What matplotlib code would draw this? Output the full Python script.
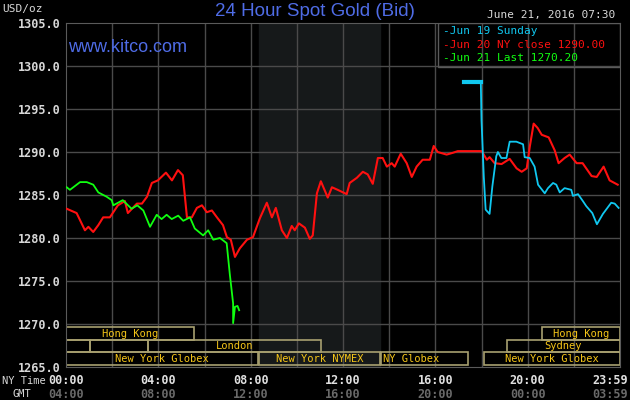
import matplotlib
matplotlib.use('Agg')
import matplotlib.pyplot as plt
from matplotlib.patches import Rectangle

# Jun 20 (red), hours NY time
red_h = [0.03, 0.46, 0.82, 0.97, 1.18, 1.40, 1.61, 1.90, 2.25, 2.55, 2.68, 3.07, 3.29, 3.51, 3.72, 3.98,
         4.33, 4.59, 4.85, 5.06, 5.24, 5.45, 5.67, 5.89, 6.10, 6.32, 6.54, 6.80, 6.97, 7.14, 7.32, 7.53,
         7.84, 8.10, 8.40, 8.70, 8.92, 9.09, 9.35, 9.57, 9.78, 9.91, 10.09, 10.35, 10.56, 10.69, 10.87,
         11.04, 11.34, 11.52, 11.77, 12.16, 12.29, 12.60, 12.86, 13.07, 13.29, 13.51, 13.72, 13.90, 14.11,
         14.24, 14.50, 14.76, 14.98, 15.19, 15.45, 15.76, 15.93, 16.10, 16.49, 16.75, 16.97, 18.01, 18.23,
         18.35, 18.57, 18.87, 19.22, 19.52, 19.74, 19.96, 20.09, 20.26, 20.43, 20.61, 20.91, 21.17, 21.34,
         21.60, 21.82, 22.12, 22.38, 22.77, 22.99, 23.29, 23.55, 23.90]
red_p = [1283.4, 1282.9, 1280.9, 1281.3, 1280.7, 1281.5, 1282.4, 1282.4, 1283.8, 1284.3, 1282.9, 1284.0,
         1284.0, 1284.8, 1286.4, 1286.7, 1287.6, 1286.7, 1287.9, 1287.3, 1282.4, 1282.4, 1283.5, 1283.8,
         1283.0, 1283.2, 1282.4, 1281.5, 1280.1, 1279.8, 1277.8, 1278.8, 1279.8, 1280.1, 1282.3, 1284.1,
         1282.4, 1283.5, 1280.9, 1280.0, 1281.4, 1280.9, 1281.7, 1281.2, 1279.9, 1280.3, 1285.2, 1286.6,
         1284.7, 1285.9, 1285.6, 1285.1, 1286.4, 1287.0, 1287.7, 1287.4, 1286.3, 1289.3, 1289.3, 1288.3,
         1288.7, 1288.3, 1289.8, 1288.7, 1287.1, 1288.3, 1289.1, 1289.1, 1290.7, 1290.0, 1289.7, 1289.9,
         1290.1, 1290.1, 1289.1, 1289.4, 1288.7, 1288.6, 1289.2, 1288.1, 1287.7, 1288.1, 1290.6, 1293.3,
         1292.8, 1292.0, 1291.7, 1290.2, 1288.7, 1289.3, 1289.7, 1288.7, 1288.7, 1287.2, 1287.1, 1288.3,
         1286.7, 1286.2]

# Jun 19 Sunday (cyan)
cyan_flat_h = [17.23, 17.97]
cyan_flat_p = [1298.1, 1298.1]
cyan_h = [17.97, 18.0, 18.10, 18.18, 18.35, 18.47, 18.64, 18.71, 18.86, 19.08, 19.22, 19.51, 19.80, 19.87,
          20.09, 20.30, 20.45, 20.74, 20.88, 21.10, 21.24, 21.39, 21.60, 21.89, 21.96, 22.18, 22.39, 22.54,
          22.80, 23.00, 23.26, 23.62, 23.77, 23.94]
cyan_p = [1298.1, 1293.7, 1287.1, 1283.3, 1282.8, 1286.0, 1289.5, 1290.0, 1289.3, 1289.3, 1291.2, 1291.2,
          1290.9, 1289.4, 1289.3, 1288.3, 1286.2, 1285.2, 1285.8, 1286.4, 1286.2, 1285.3, 1285.8, 1285.6,
          1284.9, 1285.1, 1284.3, 1283.7, 1282.9, 1281.6, 1282.8, 1284.1, 1284.0, 1283.5]

# Jun 21 (green)
green_h = [0.03, 0.17, 0.61, 0.90, 1.18, 1.40, 1.76, 1.98, 2.05, 2.46, 2.84, 3.09, 3.35, 3.64, 3.93, 4.14,
           4.36, 4.58, 4.86, 5.08, 5.37, 5.58, 5.94, 6.16, 6.38, 6.67, 6.96, 7.10, 7.24, 7.24, 7.32, 7.43, 7.50]
green_p = [1285.9, 1285.6, 1286.5, 1286.5, 1286.2, 1285.3, 1284.8, 1284.4, 1283.8, 1284.4, 1283.4, 1283.8,
           1283.2, 1281.3, 1282.7, 1282.2, 1282.7, 1282.2, 1282.6, 1282.0, 1282.4, 1281.1, 1280.3, 1280.9,
           1279.8, 1280.0, 1279.4, 1275.7, 1272.4, 1270.1, 1272.0, 1272.1, 1271.6]

legend_labels = ['Jun 19 Sunday', 'Jun 20 NY close 1290.00', 'Jun 21 Last 1270.20']
ny_ticks = ['00:00', '04:00', '08:00', '12:00', '16:00', '20:00', '23:59']
gmt_ticks = ['04:00', '08:00', '12:00', '16:00', '20:00', '00:00', '03:59']
tick_hours = [0, 4, 8, 12, 16, 20, 24]

# market session boxes: (start, end, row, label, align)
sessions = [(0, 5.56, 0, 'Hong Kong', 'center'), (20.6, 24, 0, 'Hong Kong', 'center'),
            (0, 1.02, 1, '', 'center'), (1.02, 3.56, 1, '', 'center'), (3.56, 11.04, 1, 'London', 'center'),
            (19.1, 24, 1, 'Sydney', 'center'),
            (0, 8.33, 2, 'New York Globex', 'center'), (8.36, 13.6, 2, 'New York NYMEX', 'center'),
            (13.65, 17.4, 2, 'NY Globex', 'left'), (18.1, 24, 2, 'New York Globex', 'center')]
row_top = [1269.6, 1268.1, 1266.7]
row_bot = [1268.1, 1266.7, 1265.2]

mono = 'DejaVu Sans Mono'
fig = plt.figure(figsize=(6.3, 4.0), dpi=100, facecolor='black')
ax = fig.add_axes([66 / 630, 33 / 400, 554 / 630, 344 / 400], facecolor='black')
ax.set_xlim(0, 24)
ax.set_ylim(1265, 1305)

ax.axvspan(8.36, 13.6, color='#16191a', zorder=0)
for h in range(2, 24, 2):
    ax.axvline(h, color='#4a4a4a', lw=1, zorder=1)
for p in range(1270, 1305, 5):
    ax.axhline(p, color='#4a4a4a', lw=1, zorder=1)

for s, e, r, lab, al in sessions:
    ax.add_patch(Rectangle((s, row_bot[r]), e - s, row_top[r] - row_bot[r], fill=False,
                           ec='#a8a070', lw=1.2, zorder=2))
    if lab:
        x = (s + e) / 2 if al == 'center' else s + 0.1
        ax.text(x, (row_top[r] + row_bot[r]) / 2, lab, ha=al, va='center', color='#f5c518',
                fontsize=7.5, family=mono, zorder=3)

ax.plot(red_h, red_p, color='#ff1010', lw=1.5, zorder=4)
ax.plot(green_h, green_p, color='#10ff10', lw=1.3, zorder=5)
ax.plot(cyan_h, cyan_p, color='#10c8f0', lw=1.3, zorder=6)
ax.plot(cyan_flat_h, cyan_flat_p, color='#10c8f0', lw=3, zorder=6)

ax.set_xticks([])
ax.set_yticks(range(1265, 1310, 5))
ax.set_yticklabels(['%.1f' % v for v in range(1265, 1310, 5)], color='#d8d8d8', family=mono,
                   fontsize=8.5, fontweight='bold')
ax.tick_params(axis='y', length=0, pad=4)
for sp in ax.spines.values():
    sp.set_color('#5a5a5a')

# legend box
ax.add_patch(Rectangle((16.1, 1299.9), 7.9, 5.1, fill=False, ec='#5a5a5a', lw=1, zorder=7))
leg_cols = ['#10c8f0', '#ff1010', '#10ff10']
for i, (lab, c) in enumerate(zip(legend_labels, leg_cols)):
    ax.text(16.35, 1304.1 - i * 1.6, '-' + lab, color=c, fontsize=8, family=mono,
            va='center', ha='left', zorder=8)

fig.text(0.5, 0.97, '24 Hour Spot Gold (Bid)', ha='center', va='center', color='#4f6ce6',
         fontsize=13.5, family='Liberation Sans')
fig.text(68 / 630, 1 - 48 / 400, 'www.kitco.com', ha='left', va='center', color='#4f6ce6',
         fontsize=13, family='Liberation Sans')
fig.text(2 / 630, 1 - 9 / 400, 'USD/oz', ha='left', va='center', color='#d8d8d8', fontsize=8, family=mono)
fig.text(615 / 630, 1 - 15 / 400, 'June 21, 2016 07:30', ha='right', va='center', color='#d8d8d8',
         fontsize=8, family=mono)

fig.text(2 / 630, 1 - 381 / 400, 'NY Time', ha='left', va='center', color='#d8d8d8', fontsize=7.5, family=mono)
fig.text(12 / 630, 1 - 394 / 400, 'GMT', ha='left', va='center', color='#d8d8d8', fontsize=7.5, family=mono)
for h, a, b in zip(tick_hours, ny_ticks, gmt_ticks):
    xf = (66 + h * 554 / 24) / 630
    al = 'right' if h == 24 else 'center'
    if h == 24:
        xf = 628 / 630
    fig.text(xf, 1 - 380 / 400, a, ha=al, va='center', color='#e0e0e0', fontsize=8.5,
             family=mono, fontweight='bold')
    fig.text(xf, 1 - 394 / 400, b, ha=al, va='center', color='#6a6a6a', fontsize=8.5,
             family=mono, fontweight='bold')

fig.savefig('out.png', dpi=100, facecolor='black')
